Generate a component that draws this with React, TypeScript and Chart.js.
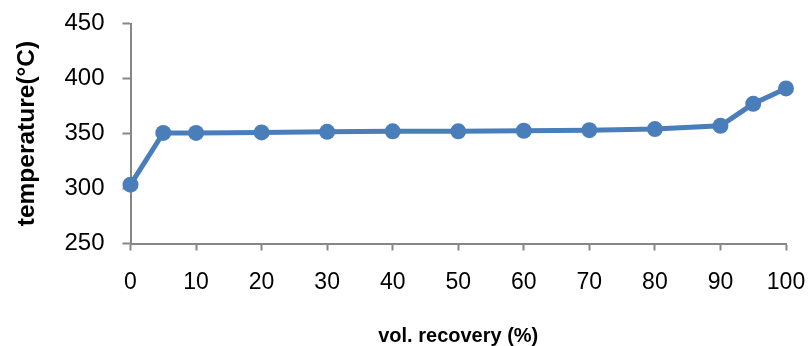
import React, { useEffect, useRef } from "react";
import { Chart, registerables } from "chart.js";

Chart.register(...registerables);

const recovery = [0, 5, 10, 20, 30, 40, 50, 60, 70, 80, 90, 95, 100];
const temperature = [303.5, 350.5, 350.5, 351, 351.5, 352, 352, 352.5, 353, 354, 357, 377, 391];
const xTitle = "vol. recovery (%)";
const yTitle = "temperature(°C)";

const BLUE = "#4A7EBB";
const AXIS = "#868686";

export default function App() {
  const ref = useRef<HTMLCanvasElement | null>(null);

  useEffect(() => {
    if (!ref.current) return;
    const chart = new Chart(ref.current, {
      type: "line",
      data: {
        datasets: [
          {
            data: recovery.map((x, i) => ({ x, y: temperature[i] })),
            borderColor: BLUE,
            backgroundColor: BLUE,
            borderWidth: 5,
            pointRadius: 8,
            pointBackgroundColor: BLUE,
            pointBorderColor: BLUE,
            pointBorderWidth: 0,
            tension: 0,
            clip: false,
          },
        ],
      },
      options: {
        animation: false,
        responsive: false,
        maintainAspectRatio: false,
        layout: { padding: { top: 23.5, right: 25, bottom: 0, left: 0 } },
        plugins: { legend: { display: false }, tooltip: { enabled: false } },
        scales: {
          x: {
            type: "linear",
            min: 0,
            max: 100,
            afterFit: (s: any) => {
              s.height = 102.5;
              s.paddingLeft = 0;
              s.paddingRight = 0;
            },
            ticks: {
              stepSize: 10,
              color: "#000",
              padding: 18,
              maxRotation: 0,
              font: { family: "'Liberation Sans', Arial, sans-serif", size: 23 },
            },
            grid: {
              drawOnChartArea: false,
              drawTicks: true,
              tickLength: 7,
              tickColor: AXIS,
              tickWidth: 2,
              color: AXIS,
            },
            border: { color: AXIS, width: 2 },
            title: {
              display: true,
              text: xTitle,
              color: "#000",
              padding: { top: 0, bottom: 0 },
              font: { family: "'Liberation Sans', Arial, sans-serif", size: 20, weight: "bold", lineHeight: 1 },
            },
          },
          y: {
            min: 250,
            max: 450,
            afterFit: (s: any) => {
              s.width = 130.5;
              s.paddingTop = 0;
              s.paddingBottom = 0;
            },
            ticks: {
              stepSize: 50,
              color: "#000",
              padding: 18,
              font: { family: "'Liberation Sans', Arial, sans-serif", size: 24 },
            },
            grid: {
              drawOnChartArea: false,
              drawTicks: true,
              tickLength: 8,
              tickColor: AXIS,
              tickWidth: 2,
              color: AXIS,
            },
            border: { color: AXIS, width: 2 },
            title: {
              display: true,
              text: yTitle,
              color: "#000",
              padding: { top: 12.5, bottom: 0 },
              font: { family: "'Liberation Sans', Arial, sans-serif", size: 24.5, weight: "bold" },
            },
          },
        },
      },
    });
    return () => chart.destroy();
  }, []);

  return (
    <div style={{ position: "absolute", left: 0, top: 0, width: 811, height: 346, background: "#fff" }}>
      <canvas ref={ref} width={811} height={346} style={{ width: 811, height: 346 }} />
    </div>
  );
}
